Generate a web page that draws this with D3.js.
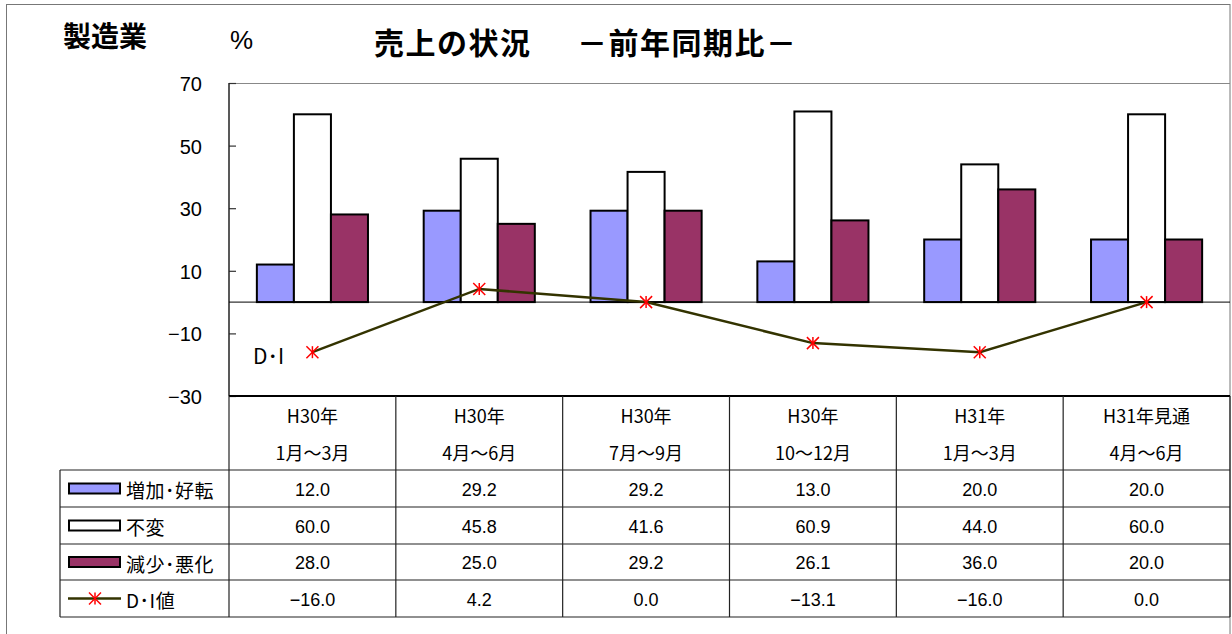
<!DOCTYPE html>
<html lang="ja">
<head>
<meta charset="utf-8">
<script src="https://cdn.jsdelivr.net/npm/d3@7"></script>
<style>
  html, body { margin: 0; padding: 0; background: #fff; }
  svg { display: block; }
  text { font-family: "Noto Sans CJK JP", "Liberation Sans", sans-serif; fill: #000; }
</style>
</head>
<body>
<svg id="chart" width="1232" height="634"></svg>
<script>
// Quarters (two-line headers) and series values, %
const periodLine1 = ["H30年", "H30年", "H30年", "H30年", "H31年", "H31年見通"];
const periodLine2 = ["1月～3月", "4月～6月", "7月～9月", "10～12月", "1月～3月", "4月～6月"];
const seriesNames = ["増加･好転", "不変", "減少･悪化", "D･I値"];
const increase = [12.0, 29.2, 29.2, 13.0, 20.0, 20.0];
const unchanged = [60.0, 45.8, 41.6, 60.9, 44.0, 60.0];
const decrease = [28.0, 25.0, 29.2, 26.1, 36.0, 20.0];
const diValues = [-16.0, 4.2, 0.0, -13.1, -16.0, 0.0];
const yTicks = [-30, -10, 10, 30, 50, 70];

const barSeries = [
  { name: seriesNames[0], values: increase, fill: "#9999ff" },
  { name: seriesNames[1], values: unchanged, fill: "#ffffff" },
  { name: seriesNames[2], values: decrease, fill: "#993366" }
];

const svg = d3.select("#chart");
const plotLeft = 229, plotRight = 1230, plotTop = 83, plotBottom = 396;
const fmt = v => (v < 0 ? "\u2212" : "") + Math.abs(v).toFixed(1);
const minusFmt = v => (v < 0 ? "\u2212" : "") + Math.abs(v);

// outer frame
svg.append("rect").attr("x", 6.5).attr("y", 4.5).attr("width", 1223.5).attr("height", 640)
  .attr("fill", "none").attr("stroke", "#777").attr("stroke-width", 1);

// headings
svg.append("text").attr("x", 63).attr("y", 35).attr("dominant-baseline", "central")
  .attr("font-size", 28).attr("font-weight", 700).text("製造業");
svg.append("text").attr("x", 230).attr("y", 40).attr("dominant-baseline", "central")
  .attr("font-size", 26).style("font-family", "'Liberation Sans', sans-serif").text("%");
svg.append("text").attr("x", 374).attr("y", 41).attr("dominant-baseline", "central")
  .attr("font-size", 30).attr("font-weight", 700).attr("letter-spacing", 1.5)
  .text("売上の状況");
svg.append("text").attr("x", 577).attr("y", 41).attr("dominant-baseline", "central")
  .attr("font-size", 30).attr("font-weight", 700).attr("letter-spacing", 1.5)
  .text("－前年同期比－");

const x0 = d3.scaleBand().domain(d3.range(periodLine1.length)).range([plotLeft, plotRight]).padding(0);
const bw = x0.bandwidth();
const x1 = d3.scaleBand().domain(d3.range(barSeries.length)).range([bw * 0.167, bw * 0.833]).padding(0);
const y = d3.scaleLinear().domain([-30, 70]).range([plotBottom, plotTop]);

// plot area top edge
svg.append("line").attr("x1", plotLeft).attr("x2", plotRight).attr("y1", plotTop + 0.5).attr("y2", plotTop + 0.5)
  .attr("stroke", "#888").attr("stroke-width", 1.2);

// value axis with inward ticks
const yAxis = svg.append("g").attr("transform", `translate(${plotLeft},0)`)
  .call(d3.axisRight(y).tickValues(yTicks).tickSize(7).tickFormat(""));
yAxis.select(".domain").remove();
yAxis.selectAll("line").attr("stroke", "#333").attr("stroke-width", 1.2);
svg.append("line").attr("x1", plotLeft).attr("x2", plotLeft).attr("y1", plotTop).attr("y2", plotBottom)
  .attr("stroke", "#222").attr("stroke-width", 1.5);
svg.selectAll("text.ylab").data(yTicks).join("text").attr("class", "ylab")
  .attr("x", 202).attr("y", d => y(d) + 1).attr("text-anchor", "end").attr("dominant-baseline", "central")
  .attr("font-size", 20).style("font-family", "'Liberation Sans', sans-serif").text(minusFmt);

// bars
const groups = svg.append("g").selectAll("g").data(barSeries).join("g");
groups.selectAll("rect").data((s, si) => s.values.map((v, i) => ({ v, i, si, fill: s.fill })))
  .join("rect")
  .attr("x", d => x0(d.i) + x1(d.si))
  .attr("width", x1.bandwidth())
  .attr("y", d => y(Math.max(0, d.v)))
  .attr("height", d => Math.abs(y(d.v) - y(0)))
  .attr("fill", d => d.fill).attr("stroke", "#000").attr("stroke-width", 2);

// zero line
svg.append("line").attr("x1", plotLeft).attr("x2", plotRight).attr("y1", y(0)).attr("y2", y(0))
  .attr("stroke", "#000").attr("stroke-width", 1);

// D·I line with asterisk markers
const cx = i => x0(i) + bw / 2;
svg.append("path").datum(diValues)
  .attr("d", d3.line().x((d, i) => cx(i)).y(d => y(d)))
  .attr("fill", "none").attr("stroke", "#333300").attr("stroke-width", 2.5);
const star = (g, r) => {
  g.append("line").attr("x1", 0).attr("x2", 0).attr("y1", -r).attr("y2", r);
  g.append("line").attr("x1", -r).attr("x2", r).attr("y1", -r).attr("y2", r);
  g.append("line").attr("x1", -r).attr("x2", r).attr("y1", r).attr("y2", -r);
  g.attr("stroke", "#ff0000").attr("stroke-width", 1.5);
};
diValues.forEach((v, i) => star(svg.append("g").attr("transform", `translate(${cx(i)},${y(v)})`), 6));
svg.append("text").attr("x", 253).attr("y", 355).attr("dominant-baseline", "central")
  .attr("font-size", 21).text("D･I");

// category axis line
svg.append("line").attr("x1", plotLeft).attr("x2", plotRight).attr("y1", plotBottom).attr("y2", plotBottom)
  .attr("stroke", "#000").attr("stroke-width", 2);

// data table
const rowTops = [470, 507, 544, 580, 617];
const tableLeft = 60;
const gridColor = "#222";
const grid = svg.append("g").attr("stroke", gridColor).attr("stroke-width", 1.2);
rowTops.forEach(ry => grid.append("line").attr("x1", tableLeft).attr("x2", plotRight).attr("y1", ry).attr("y2", ry));
d3.range(periodLine1.length + 1).forEach(i => {
  const xx = i < periodLine1.length ? x0(i) : plotRight;
  grid.append("line").attr("x1", xx).attr("x2", xx).attr("y1", plotBottom).attr("y2", rowTops[4]);
});
grid.append("line").attr("x1", tableLeft).attr("x2", tableLeft).attr("y1", rowTops[0]).attr("y2", rowTops[4]);

const headTxt = svg.append("g").attr("font-size", 18).attr("text-anchor", "middle");
periodLine1.forEach((t, i) => {
  headTxt.append("text").attr("x", cx(i)).attr("y", 415).attr("dominant-baseline", "central").text(t);
  headTxt.append("text").attr("x", cx(i)).attr("y", 452).attr("dominant-baseline", "central").text(periodLine2[i]);
});

const rows = [increase, unchanged, decrease, diValues];
rows.forEach((vals, r) => {
  const ym = (rowTops[r] + rowTops[r + 1]) / 2;
  vals.forEach((v, i) => {
    svg.append("text").attr("x", cx(i)).attr("y", ym + 1).attr("text-anchor", "middle")
      .attr("dominant-baseline", "central").attr("font-size", 18)
      .style("font-family", "'Liberation Sans', sans-serif").text(fmt(v));
  });
  svg.append("text").attr("x", 126).attr("y", ym + 1).attr("dominant-baseline", "central")
    .attr("font-size", 19).attr("letter-spacing", 0.5).text(seriesNames[r]);
  if (r < 3) {
    svg.append("rect").attr("x", 69).attr("y", ym - 5).attr("width", 51).attr("height", 10)
      .attr("fill", barSeries[r].fill).attr("stroke", "#000").attr("stroke-width", 2);
  } else {
    svg.append("line").attr("x1", 68).attr("x2", 121).attr("y1", ym).attr("y2", ym)
      .attr("stroke", "#333300").attr("stroke-width", 2.5);
    star(svg.append("g").attr("transform", `translate(95,${ym})`), 6);
  }
});
</script>
</body>
</html>
